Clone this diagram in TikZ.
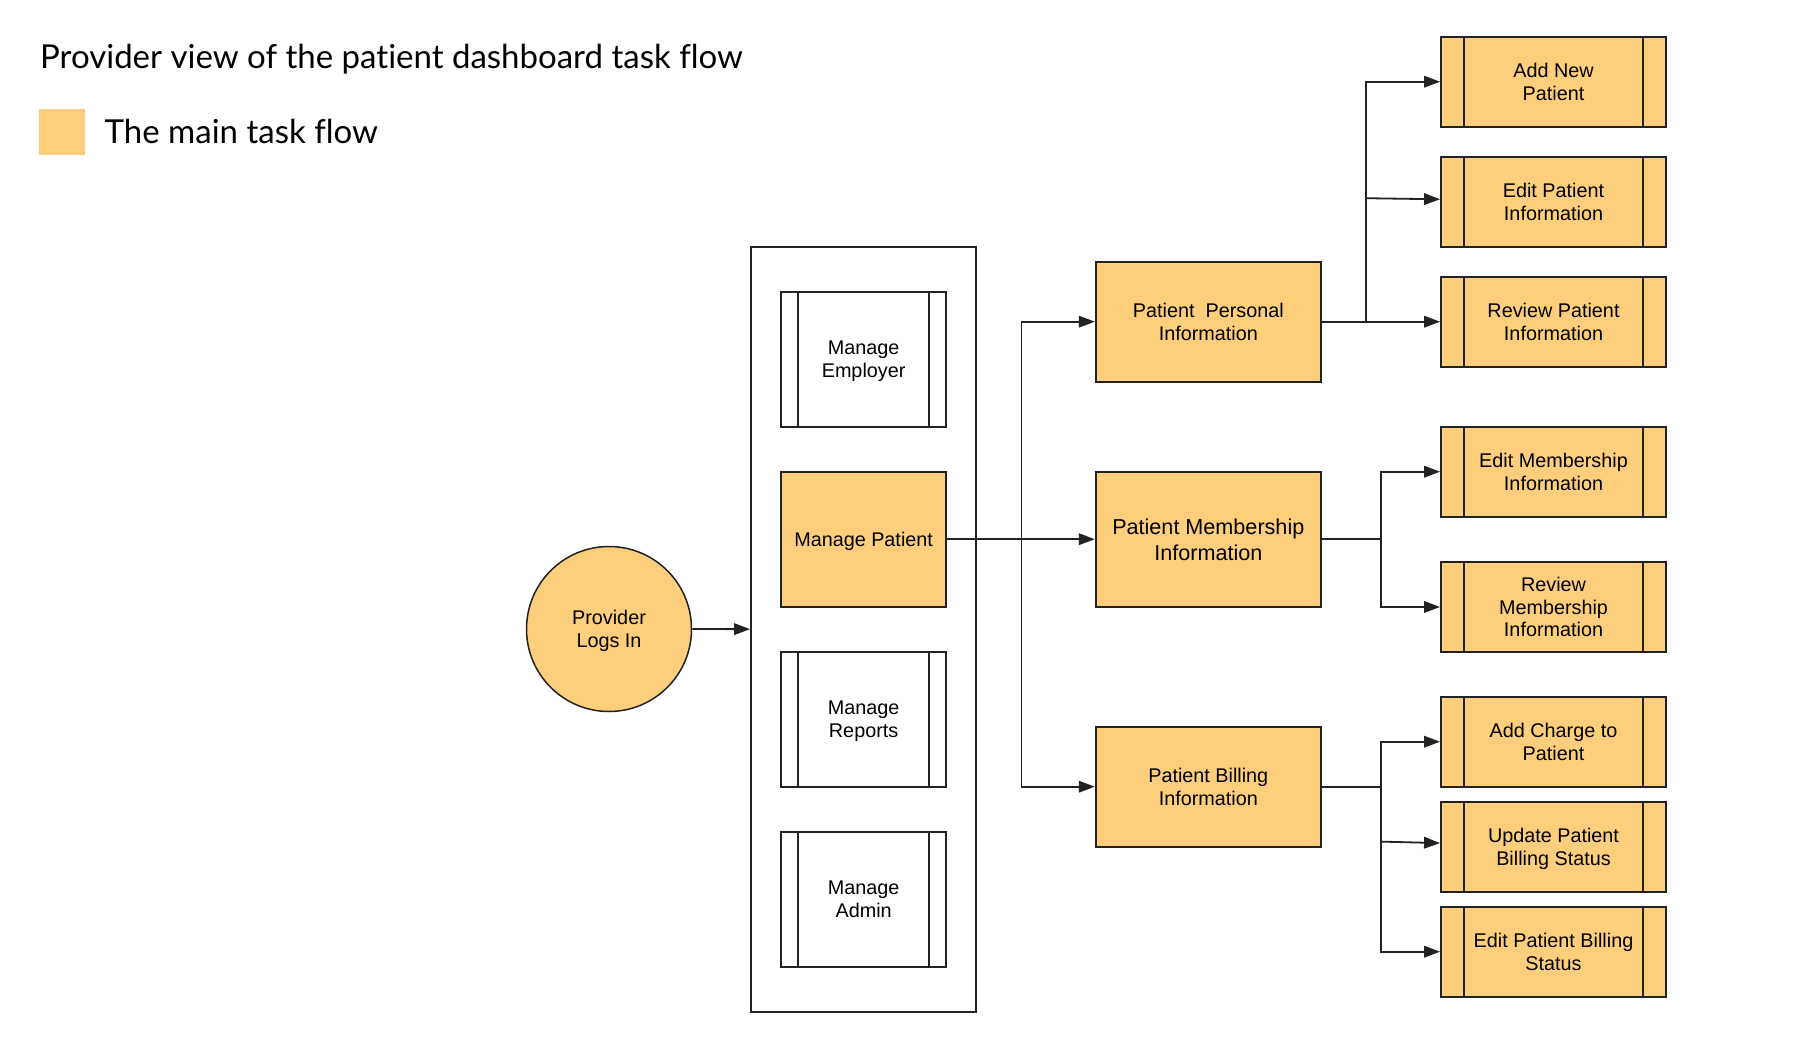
\documentclass[tikz,border=0pt]{standalone}
\usepackage{fontspec}
\newfontfamily\boxfont{Liberation Sans}
\newfontfamily\latofont[Ligatures=NoCommon]{Lato}
\usetikzlibrary{arrows.meta}
\definecolor{flow}{RGB}{253,206,123}
\definecolor{ink}{RGB}{34,34,34}
\tikzset{
  box/.style={draw=ink, line width=1.9pt, inner sep=0pt, align=center,
    text depth=0pt, font=\boxfont\fontsize{19.8}{22.7}\selectfont},
  boxw/.style={box, minimum width=165pt, minimum height=135pt},
  boxm/.style={box, fill=flow, minimum width=225pt, minimum height=120pt},
  boxr/.style={box, fill=flow, minimum width=225pt, minimum height=90pt},
  bars/.style={path picture={
    \draw[ink, line width=1.7pt] ([xshift=#1]path picture bounding box.north west) -- ([xshift=#1]path picture bounding box.south west);
    \draw[ink, line width=1.7pt] ([xshift=-#1]path picture bounding box.north east) -- ([xshift=-#1]path picture bounding box.south east);}},
  arr/.style={draw=ink, line width=1.8pt, -{Triangle[length=16pt,width=11.5pt]}},
  conn/.style={draw=ink, line width=1.8pt},
  heading/.style={inner sep=0pt, anchor=base west, font=\latofont\fontsize{33}{39}\selectfont}
}
\begin{document}
\begin{tikzpicture}[x=1pt,y=-1pt]
\useasboundingbox (0,0) rectangle (1807,1044);
% legend
\node[heading] (title) at (40,68) {Provider view of the patient dashboard task flow};
\node[fill=flow, minimum size=46pt, inner sep=0pt] (legsq) at (62,132) {};
\node[heading] (legtx) at (104.5,143.3) {The main task flow};
% start
\node[draw=ink, line width=1.5pt, fill=flow, circle, minimum size=165pt, inner sep=0pt, align=center,
  text depth=0pt, font=\boxfont\fontsize{19.8}{22.7}\selectfont] (start) at (609,629) {Provider\\Logs In};
% container
\node[draw=ink, line width=1.9pt, minimum width=225pt, minimum height=765pt, inner sep=0pt] (cont) at (863.6,629.2) {};
\node[boxw, bars=16.8pt] (memp) at (863.6,359.2) {Manage\\Employer};
\node[boxw, fill=flow] (mpat) at (863.6,539.2) {Manage Patient};
\node[boxw, bars=16.8pt] (mrep) at (863.6,719.3) {Manage\\Reports};
\node[boxw, bars=16.8pt] (madm) at (863.6,899.2) {Manage\\Admin};
% middle column
\node[boxm] (ppi) at (1208.3,321.7) {Patient\ \ Personal\\Information};
\node[boxm, minimum height=135pt, font=\boxfont\fontsize{21.6}{26}\selectfont] (pmi) at (1208.3,539.2) {Patient Membership\\Information};
\node[boxm] (pbi) at (1208.3,786.7) {Patient Billing\\Information};
% right column
\node[boxr, bars=23pt] (anp) at (1553.5,81.7) {Add New\\Patient};
\node[boxr, bars=23pt] (epi) at (1553.5,201.7) {Edit Patient\\Information};
\node[boxr, bars=23pt] (rpi) at (1553.5,321.7) {Review Patient\\Information};
\node[boxr, bars=23pt] (emi) at (1553.5,471.7) {Edit Membership\\Information};
\node[boxr, bars=23pt] (rmi) at (1553.5,607) {Review\\Membership\\Information};
\node[boxr, bars=23pt] (acp) at (1553.5,741.7) {Add Charge to\\Patient};
\node[boxr, bars=23pt] (ups) at (1553.5,846.7) {Update Patient\\Billing Status};
\node[boxr, bars=23pt] (ebs) at (1553.5,951.7) {Edit Patient Billing\\Status};
% junctions
\coordinate (jt) at (1021.4,539.2);
\coordinate (j1) at (1365.7,321.7);
\coordinate (j1e) at (1365.7,198.2);
\coordinate (j2) at (1380.7,539.2);
\coordinate (j3) at (1380.7,786.7);
\coordinate (j3u) at (1380.7,841.6);
% connectors
\draw[arr] (start) -- (cont);
\draw[arr] (mpat) -- (pmi);
\draw[arr] (jt) |- (ppi.west);
\draw[arr] (jt) |- (pbi.west);
\draw[arr] (ppi) -- (rpi);
\draw[arr] (j1) |- (anp.west);
\draw[conn] (j1) -- (j1e);
\draw[arr] (j1e) -- ([yshift=2.4pt]epi.west);
\draw[conn] (pmi.east) -- (j2);
\draw[arr] (j2) |- (emi.west);
\draw[arr] (j2) |- (rmi.west);
\draw[conn] (pbi.east) -- (j3);
\draw[arr] (j3) |- (acp.west);
\draw[arr] (j3) |- (ebs.west);
\draw[arr] (j3u) -- ([yshift=3.6pt]ups.west);
\end{tikzpicture}
\end{document}
